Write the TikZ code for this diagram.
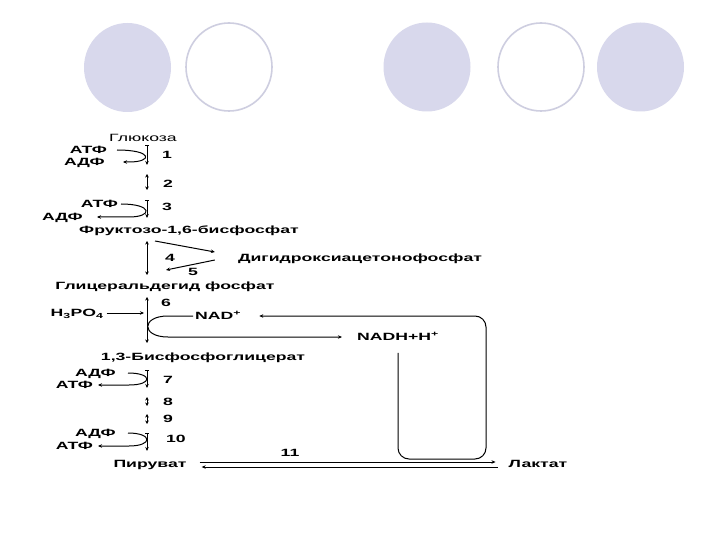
\documentclass[tikz,border=0pt]{standalone}
\usepackage{fontspec}
\setmainfont{Liberation Sans}
\newfontfamily\labfont[FakeStretch=1.68]{Liberation Sans}
\usepackage{tikz}
\usetikzlibrary{arrows.meta}
\definecolor{dotfill}{RGB}{216,216,236}
\definecolor{dotline}{RGB}{206,206,224}
\tikzset{
  lbl/.style={font=\labfont\bfseries\fontsize{10.5}{12}\selectfont,inner sep=0pt,text height=7.5pt,text depth=0pt},
  lblthin/.style={lbl,font=\labfont\fontsize{10.5}{12}\selectfont},
  co/.style={line width=1pt},
  ar/.style={co,-{Stealth[length=4pt,width=3.5pt]}},
  irr/.style={co,{Bar[width=4pt]}-{Stealth[length=4pt,width=3.5pt]}},
  rev/.style={co,{Stealth[length=3.5pt,width=3.5pt]}-{Stealth[length=3.5pt,width=3.5pt]}}
}

\begin{document}
\begin{tikzpicture}[x=1pt,y=-1pt]
\useasboundingbox (0,0) rectangle (720,540);
\fill[white] (0,0) rectangle (720,540);
% circles at the top
\fill[dotfill] (127.5,67.5) ellipse [x radius=43.5,y radius=44.5];
\draw[dotline,line width=1.6pt] (229,67) ellipse [x radius=43,y radius=44];
\fill[dotfill] (427,67) ellipse [x radius=43.5,y radius=44.5];
\draw[dotline,line width=1.6pt] (541,67) ellipse [x radius=43,y radius=44];
\fill[dotfill] (640.5,67) ellipse [x radius=43.5,y radius=44.5];

% metabolites
\node[lblthin] (glc) at (143,138) {Глюкоза};
\node[lbl] (f16) at (189,230) {Фруктозо-1,6-бисфосфат};
\node[lbl] (dhap) at (360,258) {Дигидроксиацетонофосфат};
\node[lbl] (gap) at (165,286) {Глицеральдегид фосфат};
\node[lbl] (bpg) at (203,357) {1,3-Бисфосфоглицерат};
\node[lbl] (pyr) at (150,464) {Пируват};
\node[lbl] (lac) at (538,464) {Лактат};

% cofactors
\node[lbl,anchor=east] (atp1) at (107,150) {АТФ};
\node[lbl,anchor=east] (adp1) at (105,162) {АДФ};
\node[lbl,anchor=east] (atp3) at (118,204) {АТФ};
\node[lbl,anchor=east] (adp3) at (83,217) {АДФ};
\node[lbl] (pi) at (77,313) {H\textsubscript{3}PO\textsubscript{4}};
\node[lbl,anchor=west] (nad) at (195,316) {NAD\textsuperscript{+}};
\node[lbl] (nadh) at (398,337) {NADH+H\textsuperscript{+}};
\node[lbl,anchor=east] (adp7) at (116,373) {АДФ};
\node[lbl,anchor=east] (atp7) at (93,385) {АТФ};
\node[lbl,anchor=east] (adp10) at (116,433) {АДФ};
\node[lbl,anchor=east] (atp10) at (93,446) {АТФ};

% step numbers
\node[lbl] (n1) at (167,155) {1};
\node[lbl] (n2) at (168,184) {2};
\node[lbl] (n3) at (167,207) {3};
\node[lbl] (n4) at (170,258) {4};
\node[lbl] (n5) at (193,272) {5};
\node[lbl] (n6) at (166,303) {6};
\node[lbl] (n7) at (168,380) {7};
\node[lbl] (n8) at (168,402) {8};
\node[lbl] (n9) at (168,419) {9};
\node[lbl] (n10) at (176,439) {10};
\node[lbl] (n11) at (290,453) {11};

% main chain
\foreach \ya/\yb/\kind in {145/165/irr,174/190/rev,200/218/irr,241/275/rev,297/343/rev,370/388/irr,397/406/rev,414/424/rev,433/451/irr}
  \draw[\kind] (147,\ya) -- (147,\yb);

% ATP / ADP
\draw[ar] ([xshift=10pt]atp1.east) .. controls +(36,0) and +(24,0) .. ([xshift=24pt]adp1.east) -- ([xshift=18pt]adp1.east);
\draw[ar] ([xshift=3pt]atp3.east) .. controls +(32,0) and +(24,0) .. ([xshift=46pt]adp3.east) -- ([xshift=14pt]adp3.east);
\draw[ar] ([xshift=12pt]adp7.east) .. controls +(25,0) and +(24,0) .. ([xshift=36pt]atp7.east) -- ([xshift=5pt]atp7.east);
\draw[ar] ([xshift=12pt]adp10.east) .. controls +(25,0) and +(24,0) .. ([xshift=36pt]atp10.east) -- ([xshift=5pt]atp10.east);

% triose phosphates
\draw[ar] (155,241) -- ([xshift=-23pt,yshift=6pt]dhap.west);
\draw[ar] ([xshift=-23pt,yshift=-2pt]dhap.west) -- (166,270);

% step 6
\draw[ar] ([xshift=3pt]pi.east) -- (144,313);
\draw[ar] ([xshift=-2pt]nad.west) -- (168,316) .. controls (141,316) and (141,337) .. (168,337) -- ([xshift=-15pt]nadh.west);
\draw[ar,rounded corners=11pt] ([yshift=-12pt]nadh.south) |- (486,459) |- ([xshift=18pt]nad.east);

% pyruvate - lactate
\draw[ar] ([xshift=13pt,yshift=2pt]pyr.east) -- ([xshift=-13pt,yshift=2pt]lac.west);
\draw[ar] ([xshift=-11pt,yshift=-3pt]lac.west) -- ([xshift=15pt,yshift=-3pt]pyr.east);
\end{tikzpicture}
\end{document}
